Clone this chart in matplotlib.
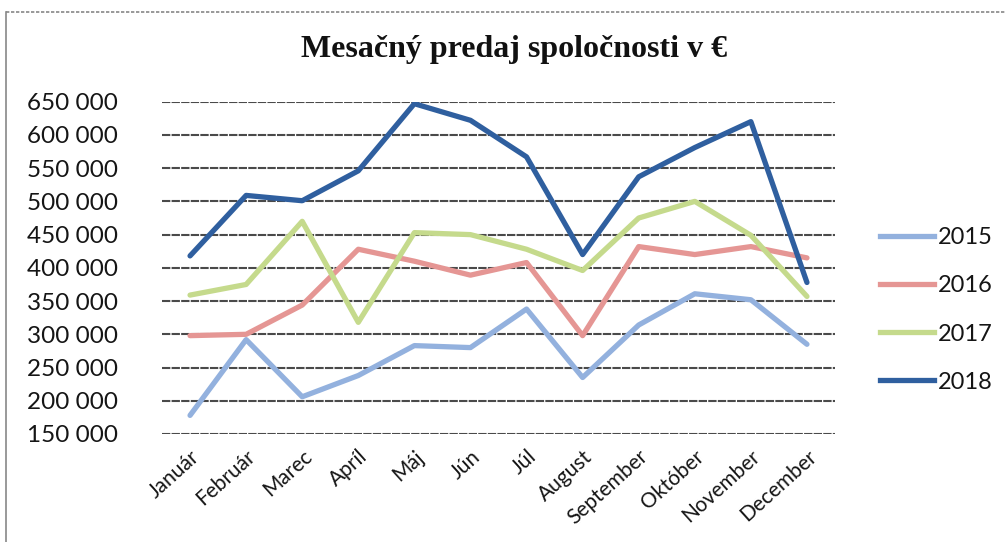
import matplotlib
matplotlib.use("Agg")
import matplotlib.pyplot as plt
from matplotlib.lines import Line2D

months = ["Január", "Február", "Marec", "Apríl", "Máj", "Jún", "Júl",
          "August", "September", "Október", "November", "December"]
years = ["2015", "2016", "2017", "2018"]
sales_2015 = [178000, 292000, 206000, 238000, 283000, 280000, 338000, 235000, 314000, 361000, 352000, 285000]
sales_2016 = [298000, 300000, 344000, 428000, 410000, 389000, 408000, 298000, 432000, 420000, 432000, 415000]
sales_2017 = [359000, 375000, 470000, 318000, 453000, 450000, 428000, 396000, 475000, 500000, 449000, 357000]
sales_2018 = [418000, 509000, 501000, 546000, 647000, 622000, 567000, 420000, 537000, 581000, 620000, 378000]
yticks = [150000, 200000, 250000, 300000, 350000, 400000, 450000, 500000, 550000, 600000, 650000]
colors = ["#93B1DE", "#E59694", "#C5DA8C", "#2F5F9F"]
title = "Mesačný predaj spoločnosti v €"

series = [sales_2015, sales_2016, sales_2017, sales_2018]

fig = plt.figure(figsize=(10.05, 5.42), dpi=100)
W, H = 1005, 542
ax = fig.add_axes([162 / W, 1 - 434 / H, (835 - 162) / W, (434 - 101.7) / H])

x = [i + 0.5 for i in range(len(months))]
for vals, col, yr in zip(series, colors, years):
    ax.plot(x, vals, color=col, lw=3.8, solid_capstyle="round", solid_joinstyle="round", label=yr, zorder=3)

ax.set_xlim(0, len(months))
ax.set_ylim(150000, 650000)
ax.set_yticks(yticks)
ax.set_yticklabels([f"{v:,}".replace(",", " ") for v in yticks], fontsize=17.5, family="Lato", color="#151515")
ax.set_xticks(x)
ax.set_xticklabels(months, rotation=42, ha="right", rotation_mode="anchor", fontsize=15, family="Lato", color="#151515")
ax.tick_params(axis="both", length=0)
ax.tick_params(axis="y", pad=32)
ax.tick_params(axis="x", pad=9)
ax.grid(axis="y", color="#4a4a4a", lw=1.5, ls=(0, (4, 0.6)), zorder=1)
for s in ax.spines.values():
    s.set_visible(False)

handles = [Line2D([0], [0], color=c, lw=3.8) for c in colors]
leg = fig.legend(handles, years, loc="center left", bbox_to_anchor=(868 / W, 1 - 310 / H),
                 frameon=False, prop={"family": "Lato", "size": 17},
                 handlelength=2.3, handletextpad=0.15, labelspacing=1.15, borderpad=0)
for t in leg.get_texts():
    t.set_color("#151515")

fig.text(514 / W, 1 - 50 / H, title, ha="center", va="center", fontsize=23,
         family="Liberation Serif", weight="bold", color="#111111")

# frame
fig.add_artist(Line2D([6 / W, 1.0], [1 - 12 / H, 1 - 12 / H], transform=fig.transFigure, color="#888888", lw=1.2, ls=(0, (2, 1))))
fig.add_artist(Line2D([6 / W, 6 / W], [1 - 12 / H, 0], transform=fig.transFigure, color="#888888", lw=1.2))

fig.savefig("out.png", dpi=100, facecolor="white")
